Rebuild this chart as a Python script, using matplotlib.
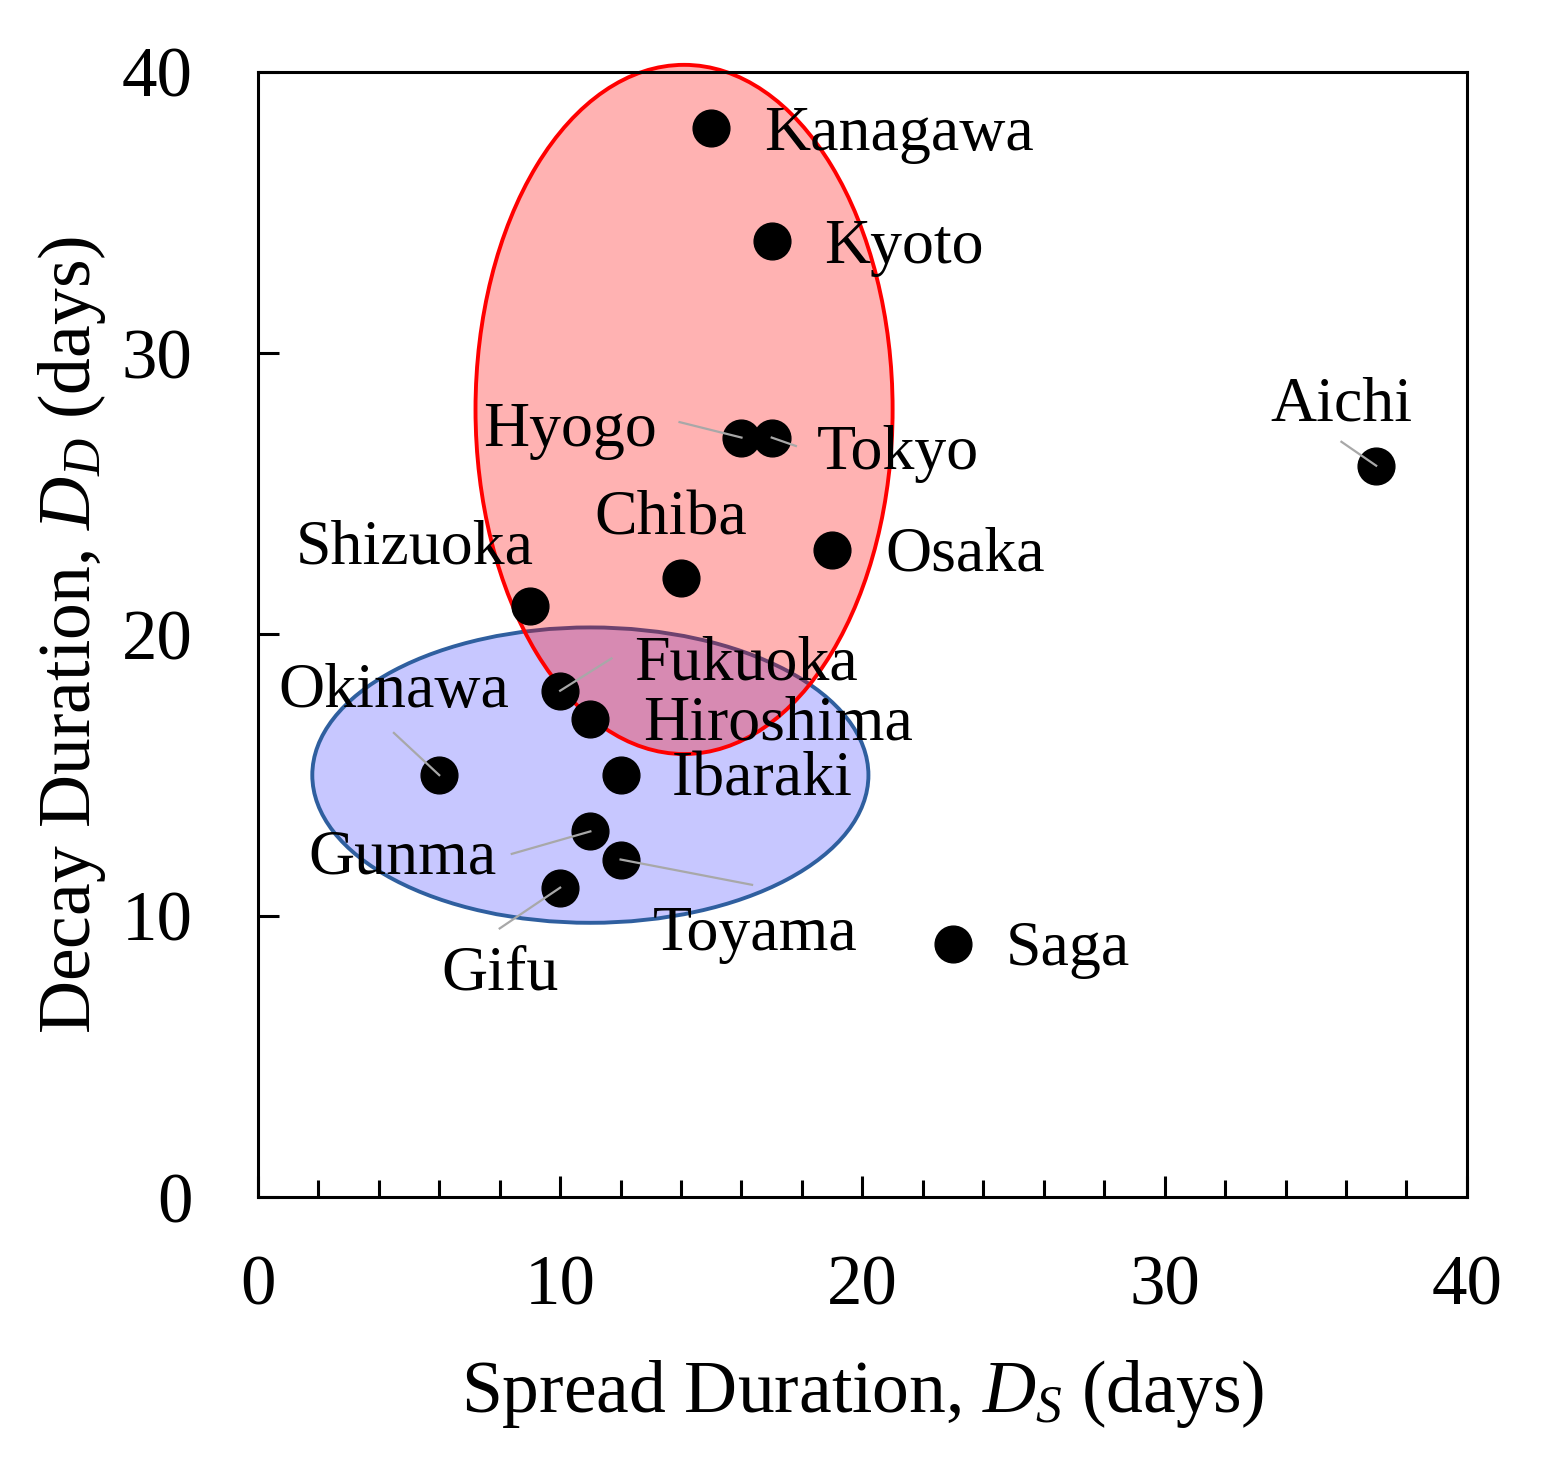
import matplotlib
matplotlib.use("Agg")
import matplotlib.pyplot as plt
from matplotlib.patches import Ellipse
from matplotlib.ticker import MultipleLocator

plt.rcParams['font.family'] = ['Liberation Serif', 'DejaVu Serif']
plt.rcParams['mathtext.fontset'] = 'custom'
plt.rcParams['mathtext.rm'] = 'Liberation Serif'
plt.rcParams['mathtext.it'] = 'Liberation Serif:italic'

# prefecture data: spread duration (x) and decay duration (y), in days
prefectures = ['Kanagawa', 'Kyoto', 'Hyogo', 'Tokyo', 'Aichi', 'Chiba', 'Osaka',
               'Shizuoka', 'Fukuoka', 'Hiroshima', 'Okinawa', 'Ibaraki', 'Gunma',
               'Toyama', 'Gifu', 'Saga']
spread_days = [15, 17, 16, 17, 37, 14, 19, 9, 10, 11, 6, 12, 11, 12, 10, 23]
decay_days = [38, 34, 27, 27, 26, 22, 23, 21, 18, 17, 15, 15, 13, 12, 11, 9]

# where each name sits (x, y, horizontal alignment)
label_pos = {
    'Kanagawa': (16.75, 37.75, 'left'),
    'Kyoto': (18.75, 33.75, 'left'),
    'Hyogo': (13.2, 27.25, 'right'),
    'Tokyo': (18.5, 26.4, 'left'),
    'Aichi': (35.85, 28.15, 'center'),
    'Chiba': (13.65, 24.1, 'center'),
    'Osaka': (20.75, 22.8, 'left'),
    'Shizuoka': (5.2, 23.05, 'center'),
    'Fukuoka': (12.45, 18.95, 'left'),
    'Hiroshima': (12.75, 16.8, 'left'),
    'Okinawa': (4.5, 17.95, 'center'),
    'Ibaraki': (13.7, 14.8, 'left'),
    'Gunma': (4.8, 12.05, 'center'),
    'Toyama': (16.45, 9.3, 'center'),
    'Gifu': (8.0, 7.9, 'center'),
    'Saga': (24.75, 8.8, 'left'),
}

# grey leader lines: start point near the label, they end at the dot
leader_start = {
    'Hyogo': (13.95, 27.55),
    'Tokyo': (17.8, 26.7),
    'Aichi': (35.85, 26.85),
    'Fukuoka': (11.7, 19.15),
    'Okinawa': (4.5, 16.5),
    'Gunma': (8.4, 12.2),
    'Toyama': (16.35, 11.1),
    'Gifu': (8.0, 9.55),
}

# cluster ellipses: centre x, centre y, width, height
red_cluster = (14.1, 28.0, 13.8, 24.5)
blue_cluster = (11.0, 15.0, 18.4, 10.5)

fig = plt.figure(figsize=(15.63, 14.67), dpi=100)
ax = fig.add_axes([0.165, 0.184, 0.7735, 0.767])

blue = Ellipse(blue_cluster[:2], blue_cluster[2], blue_cluster[3],
               facecolor=(0, 0, 1, 0.22), edgecolor='#2f5f9f', linewidth=2.8,
               zorder=1)
ax.add_patch(blue)
red = Ellipse(red_cluster[:2], red_cluster[2], red_cluster[3],
              facecolor=(1, 0, 0, 0.3), edgecolor='red', linewidth=2.8,
              zorder=2, clip_on=False)
ax.add_patch(red)

ax.scatter(spread_days, decay_days, s=700, color='black', zorder=3)

for name, sx, sy in zip(prefectures, spread_days, decay_days):
    if name in leader_start:
        lx, ly = leader_start[name]
        ax.plot([lx, sx], [ly, sy], color='#a8a8a8', linewidth=1.6, zorder=4)
    tx, ty, ha = label_pos[name]
    ax.text(tx, ty, name, fontsize=46, ha=ha, va='center', zorder=5)

ax.set_xlim(0, 40)
ax.set_ylim(0, 40)
ax.xaxis.set_major_locator(MultipleLocator(10))
ax.xaxis.set_minor_locator(MultipleLocator(2))
ax.yaxis.set_major_locator(MultipleLocator(10))

ax.tick_params(axis='both', which='major', direction='in', length=15, width=2.2,
               labelsize=51)
ax.tick_params(axis='x', which='major', pad=41)
ax.tick_params(axis='y', which='major', pad=47)
ax.tick_params(axis='x', which='minor', direction='in', length=12, width=2.2)

for sp in ax.spines.values():
    sp.set_linewidth(2.2)

ax.set_xlabel('Spread Duration, $D_S$ (days)', fontsize=53, labelpad=28)
ax.set_ylabel('Decay Duration, $D_D$ (days)', fontsize=53, labelpad=10)

fig.savefig('out.png', dpi=100)
